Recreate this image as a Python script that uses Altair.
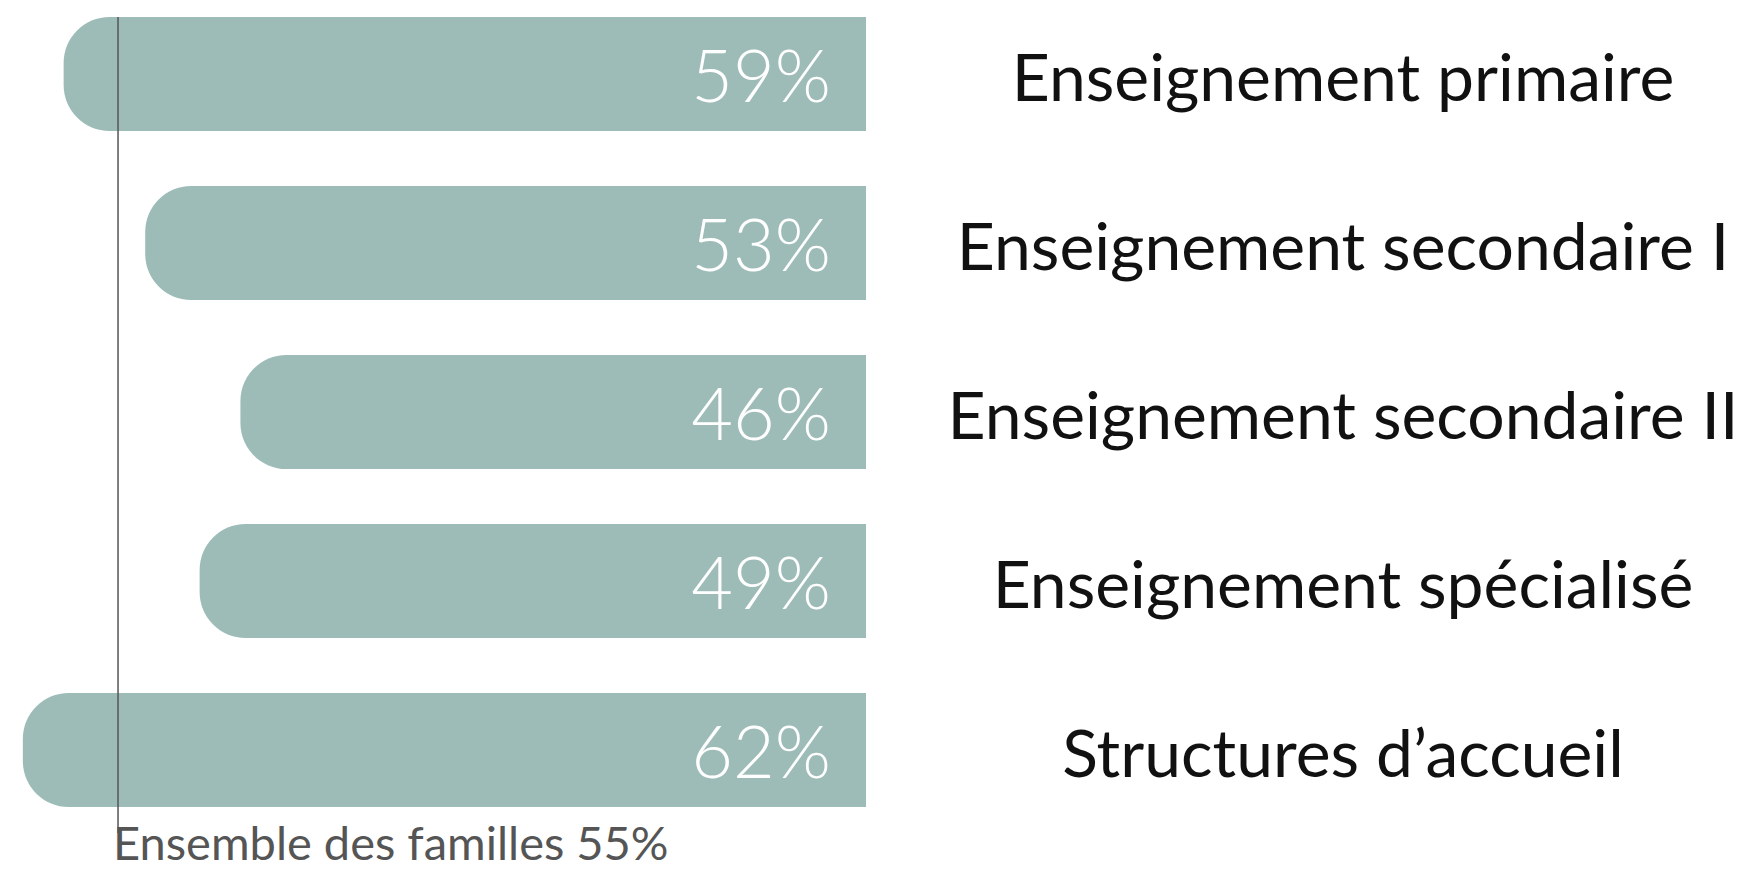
import altair as alt
import pandas as pd

categories = [
    "Enseignement primaire",
    "Enseignement secondaire I",
    "Enseignement secondaire II",
    "Enseignement spécialisé",
    "Structures d’accueil",
]
values = [59, 53, 46, 49, 62]
overall_value = 55
overall_label = "Ensemble des familles 55%"

df = pd.DataFrame({"cat": categories, "value": values, "zero": [0] * len(values)})
df["label"] = df["value"].astype(str) + "%"
ref = pd.DataFrame({"v": [overall_value], "label": [overall_label]})

FONT = "Lato"
BAR = "#9dbcb7"

xs = alt.Scale(domain=[-64.56, 63.09], reverse=True, nice=False, zero=False)
ys = alt.Scale(domain=categories, paddingInner=0.325, paddingOuter=0.2128, align=0.125)

base = alt.Chart(df)

bars = base.mark_bar(
    color=BAR, cornerRadiusTopLeft=46, cornerRadiusBottomLeft=46
).encode(
    x=alt.X("value:Q", scale=xs, axis=None),
    x2="zero:Q",
    y=alt.Y("cat:N", scale=ys, axis=None),
)

pct = base.mark_text(
    align="right", baseline="middle", dx=-35, dy=6, fontSize=72, font=FONT,
    fontWeight=300, color="white",
).encode(
    x=alt.X("zero:Q", scale=xs, axis=None),
    y=alt.Y("cat:N", scale=ys, axis=None),
    text="label:N",
)

cats = base.mark_text(
    align="center", baseline="middle", dx=477, dy=7, fontSize=66, font=FONT,
    fontWeight=400, color="#111111",
).encode(
    x=alt.X("zero:Q", scale=xs, axis=None),
    y=alt.Y("cat:N", scale=ys, axis=None),
    text="cat:N",
)

rule = alt.Chart(ref).mark_rule(color="#555555", strokeWidth=1.5).encode(
    x=alt.X("v:Q", scale=xs, axis=None),
    y=alt.value(9),
    y2=alt.value(825),
)

foot = alt.Chart(ref).mark_text(
    align="left", baseline="alphabetic", dx=-5, fontSize=47, font=FONT,
    fontWeight=400, color="#555555",
).encode(
    x=alt.X("v:Q", scale=xs, axis=None),
    y=alt.value(852),
    text="label:N",
)

chart = alt.layer(bars, rule, pct, cats, foot).properties(
    width=1736, height=862, padding=0, autosize=alt.AutoSizeParams(type="none")
).configure_view(stroke=None)

chart.save("out.html", embed_options={"renderer": "svg", "actions": False})
